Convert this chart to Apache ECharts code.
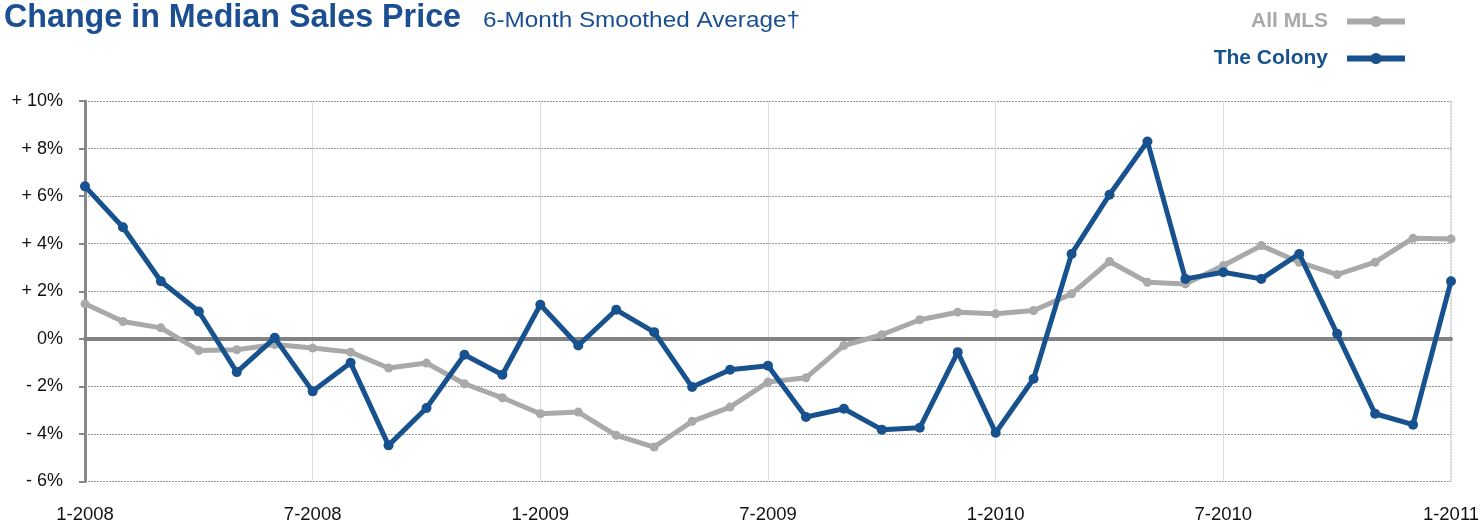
<!DOCTYPE html>
<html><head><meta charset="utf-8">
<script src="https://cdn.jsdelivr.net/npm/echarts@6/dist/echarts.min.js"></script>
<style>html,body{margin:0;padding:0;background:#fff}#c{width:1483px;height:523px}</style>
</head><body><div id="c"></div>
<script>
const months = [];
for (let y = 2008; y <= 2011; y++) for (let m = 1; m <= 12; m++) { if (y === 2011 && m > 1) break; months.push(m + '-' + y); }
const allMLS = [1.47,0.73,0.46,-0.49,-0.46,-0.24,-0.39,-0.56,-1.23,-1.02,-1.89,-2.48,-3.15,-3.08,-4.06,-4.55,-3.47,-2.87,-1.82,-1.64,-0.28,0.17,0.80,1.12,1.05,1.19,1.89,3.25,2.38,2.31,3.08,3.92,3.22,2.70,3.22,4.23,4.20];
const theColony = [6.41,4.69,2.42,1.15,-1.40,0.04,-2.21,-1.01,-4.48,-2.91,-0.67,-1.51,1.43,-0.28,1.22,0.28,-2.03,-1.30,-1.13,-3.29,-2.94,-3.82,-3.74,-0.56,-3.95,-1.68,3.57,6.06,8.30,2.52,2.80,2.52,3.57,0.21,-3.15,-3.61,2.42];
const title = 'Change in Median Sales Price';
const subtitle = '6-Month Smoothed Average†';
const seriesNames = ['All MLS','The Colony'];
const GRAY = '#a9a9a9', BLUE = '#17528f', TITLEBLUE = '#1b4f91';

function measure(text, font) {
  const cv = document.createElement('canvas').getContext('2d');
  cv.font = font; return cv.measureText(text).width;
}
const titleFont = 'bold 33px "Liberation Sans", Arial';
const titleScale = 457 / measure(title, titleFont);
const subFont = '22px "Liberation Sans", Arial';
const subScale = 317 / measure(subtitle, subFont);

const chart = echarts.init(document.getElementById('c'));
chart.setOption({
  animation: false,
  legend: {
    orient: 'vertical', right: 70, top: 6, align: 'right', itemWidth: 58, itemHeight: 14, itemGap: 16,
    data: seriesNames.map((n, i) => ({name: n, textStyle: {color: i ? BLUE : GRAY}})),
    lineStyle: {width: 6},
    textStyle: {fontFamily: '"Liberation Sans",Arial', fontWeight: 'bold', fontSize: 21, padding: [0, 14, 0, 0]}
  },
  grid: {left: 85, right: 32, top: 101, bottom: 41.5, containLabel: false, outerBoundsMode: 'none'},
  xAxis: {
    type: 'category', data: months, boundaryGap: false,
    axisLine: {onZero: true, lineStyle: {color: '#828282', width: 4}},
    axisTick: {show: false},
    axisLabel: {interval: 5, color: '#111', fontSize: 18.5, fontFamily: '"Liberation Sans",Arial', margin: 24},
    splitLine: {show: true, interval: 5, lineStyle: {color: '#dddddd', width: 1}}
  },
  yAxis: {
    type: 'value', min: -6, max: 10, interval: 2,
    axisLine: {show: true, lineStyle: {color: '#888', width: 3}},
    axisTick: {show: true, length: 6, lineStyle: {color: '#888', width: 2}},
    axisLabel: {color: '#111', fontSize: 18, fontFamily: '"Liberation Sans",Arial', margin: 22,
      formatter: v => v > 0 ? '+ ' + v + '%' : (v < 0 ? '- ' + (-v) + '%' : '0%')},
    splitLine: {lineStyle: {color: '#999', type: [2, 1], width: 1}}
  },
  graphic: [
    {type: 'line', shape: {x1: 1451, y1: 101, x2: 1451, y2: 481.5}, style: {stroke: '#aaa', lineWidth: 1, lineDash: [2, 1]}},
    {type: 'text', x: 4, y: 1, scaleX: titleScale, style: {text: title, font: titleFont, fill: TITLEBLUE, verticalAlign: 'top'}},
    {type: 'text', x: 483, y: 10, scaleX: subScale, style: {text: subtitle, font: subFont, fill: TITLEBLUE, verticalAlign: 'top'}}
  ],
  series: [
    {name: seriesNames[0], type: 'line', data: allMLS, color: GRAY, symbol: 'circle', symbolSize: 9,
      lineStyle: {width: 5, color: GRAY}, itemStyle: {color: GRAY}, z: 2},
    {name: seriesNames[1], type: 'line', data: theColony, color: BLUE, symbol: 'circle', symbolSize: 10,
      lineStyle: {width: 5, color: BLUE}, itemStyle: {color: BLUE}, z: 3}
  ]
});
</script></body></html>
